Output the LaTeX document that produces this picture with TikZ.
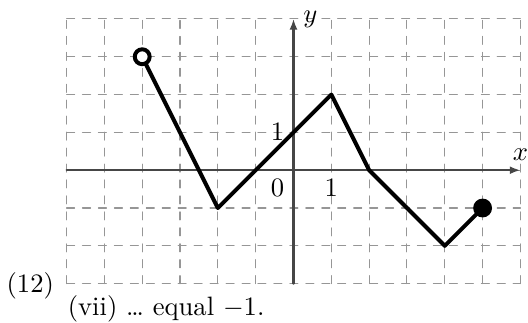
\documentclass[tikz,border=0pt]{standalone}
\usepackage{amsmath}
\usepackage{tikz}
\usetikzlibrary{arrows.meta}
\definecolor{gridline}{RGB}{150,150,150}
\definecolor{axis}{RGB}{70,70,70}
\definecolor{pen}{RGB}{0,0,0}

\begin{document}
\begin{tikzpicture}[x=0.5cm, y=0.5cm, line cap=round, line join=round]

  %========= window =========
  \def\xmin{-6}  \def\xmax{6}  \def\ymin{-3}  \def\ymax{4}
  \def\dotr{2.8pt}    % radius of the end points
  \useasboundingbox (-7.76,-4.02) rectangle (6.20,4.50);

  %========= grid and axes =========
  \draw[gridline, thin, dashed, step={(1,1)}] (\xmin,\ymin) grid (\xmax,\ymax);
  \draw[axis, line width=0.8pt, -{Latex[length=4pt,width=3pt]}]
      (\xmin,0) -- (\xmax,0) node[pen, above] (xlab) {$x$};
  \draw[axis, line width=0.8pt, -{Latex[length=4pt,width=3pt]}]
      (0,\ymin) -- (0,\ymax) node[pen, right] (ylab) {$y$};

  %========= the graph =========
  \coordinate (A) at (-4,3);
  \coordinate (B) at (-2,-1);
  \coordinate (C) at (1,2);
  \coordinate (D) at (2,0);
  \coordinate (E) at (4,-2);
  \coordinate (F) at (5,-1);
  \draw[pen, line width=1.5pt] (A) -- (B) -- (C) -- (D) -- (E) -- (F);
  \draw[pen, line width=1.5pt, fill=white] (A) circle (\dotr);  % open end
  \fill[pen] (F) circle (\dotr+0.75pt);                         % closed end

  %========= labels =========
  \node[below left] (zero) at (0,0) {$0$};
  \node[below] (onex) at (1,0) {$1$};
  \node[left] (oney) at (0,1) {$1$};
  \node[anchor=base] (num) at (-6.96,-3.23) {(12)};
  \node[anchor=base west, inner sep=0pt] (note) at (-5.98,-3.84) {(vii) … equal $-1$.};
\end{tikzpicture}
\end{document}
